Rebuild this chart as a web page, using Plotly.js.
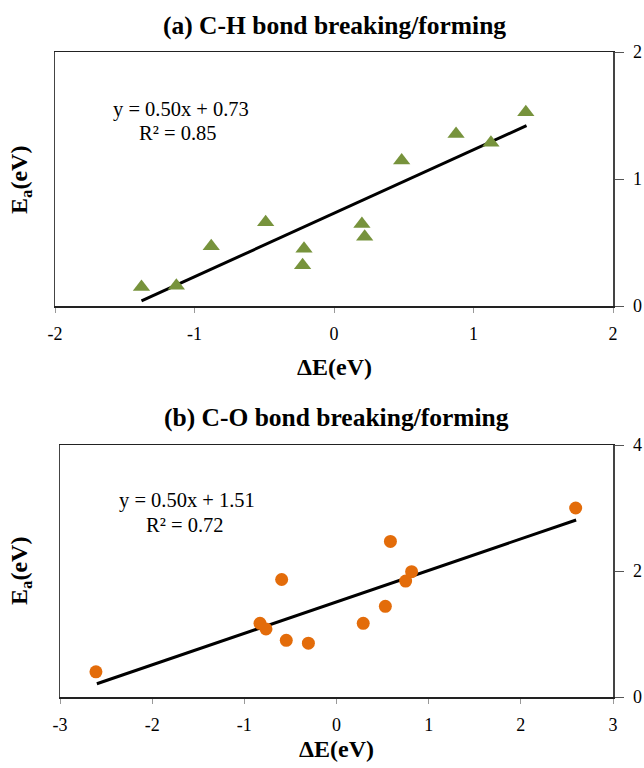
<!DOCTYPE html>
<html>
<head>
<meta charset="utf-8">
<script src="https://cdn.plot.ly/plotly-3.0.1.min.js"></script>
<style>html,body{margin:0;padding:0;background:#fff;}#chart{width:644px;height:768px;}</style>
</head>
<body>
<div id="chart"></div>
<script>
// (a) C-H bond breaking/forming
const chDeltaE = [-1.38, -1.13, -0.88, -0.49, -0.215, -0.225, 0.20, 0.22, 0.485, 0.875, 1.125, 1.375];
const chEa     = [0.15, 0.16, 0.47, 0.66, 0.45, 0.32, 0.645, 0.545, 1.145, 1.355, 1.285, 1.525];
const chTrendX = [-1.38, 1.38];
const chTrendY = [0.04, 1.42];
const chEquation = "y = 0.50x + 0.73";
const chR2 = "R² = 0.85";

// (b) C-O bond breaking/forming
const coDeltaE = [-2.61, -0.83, -0.765, -0.595, -0.545, -0.305, 0.29, 0.53, 0.585, 0.75, 0.815, 2.595];
const coEa     = [0.40, 1.17, 1.08, 1.865, 0.90, 0.855, 1.17, 1.44, 2.47, 1.84, 1.99, 3.0];
const coTrendX = [-2.6, 2.6];
const coTrendY = [0.21, 2.81];
const coEquation = "y = 0.50x + 1.51";
const coR2 = "R² = 0.72";

const xTicksA = [-2, -1, 0, 1, 2];
const yTicksA = [0, 1, 2];
const xTicksB = [-3, -2, -1, 0, 1, 2, 3];
const yTicksB = [0, 2, 4];

const FONT = "Liberation Serif";

const traces = [
  {x: chTrendX, y: chTrendY, xaxis: 'x', yaxis: 'y', mode: 'lines',
   line: {color: '#000', width: 3}, hoverinfo: 'skip'},
  {x: chDeltaE, y: chEa, xaxis: 'x', yaxis: 'y', mode: 'markers', type: 'scatter',
   marker: {symbol: 'triangle-up', size: 15, color: '#77933C'}},
  {x: coTrendX, y: coTrendY, xaxis: 'x2', yaxis: 'y2', mode: 'lines',
   line: {color: '#000', width: 3}, hoverinfo: 'skip'},
  {x: coDeltaE, y: coEa, xaxis: 'x2', yaxis: 'y2', mode: 'markers', type: 'scatter',
   marker: {symbol: 'circle', size: 13, color: '#E36C0A'}}
];

function xAxis(domain, range, ticks, anchor) {
  return {domain: domain, range: range, tickvals: ticks, ticktext: ticks.map(String),
    anchor: anchor, showline: true, mirror: true, linecolor: '#222', linewidth: 1.5,
    ticks: 'outside', ticklen: 5, tickcolor: '#999', tickwidth: 1,
    showgrid: false, zeroline: false, fixedrange: true,
    ticklabelstandoff: 6,
    tickfont: {family: FONT, size: 18, color: '#000'}};
}
function yAxis(domain, range, ticks, anchor) {
  return {domain: domain, range: range, tickvals: ticks, ticktext: ticks.map(String),
    anchor: anchor, side: 'right', showline: true, mirror: true, linecolor: '#444', linewidth: 1.5,
    ticks: 'outside', ticklen: 9, tickcolor: '#555', tickwidth: 1,
    showgrid: false, zeroline: false, fixedrange: true,
    ticklabelstandoff: 6,
    tickfont: {family: FONT, size: 18, color: '#000'}};
}

function ann(text, x, y, size, extra) {
  return Object.assign({text: text, x: x, y: y, xref: 'paper', yref: 'paper',
    xanchor: 'center', yanchor: 'middle', showarrow: false,
    font: {family: FONT, size: size, color: '#000'}}, extra || {});
}

const layout = {
  width: 644, height: 768,
  margin: {l: 0, r: 0, t: 0, b: 0},
  paper_bgcolor: '#fff', plot_bgcolor: '#fff',
  showlegend: false,
  font: {family: FONT},
  xaxis: xAxis([55/644, 613/644], [-2, 2], xTicksA, 'y'),
  yaxis: yAxis([1 - 306/768, 1 - 52/768], [0, 2], yTicksA, 'x'),
  xaxis2: xAxis([60/644, 613/644], [-3, 3], xTicksB, 'y2'),
  yaxis2: yAxis([1 - 697/768, 1 - 445/768], [0, 4], yTicksB, 'x2'),
  annotations: [
    ann('<b>(a) C-H bond breaking/forming</b>', 334/644, 1 - 25/768, 25.5),
    ann('<b>(b) C-O bond breaking/forming</b>', 336/644, 1 - 417/768, 25.5),
    ann('<b>ΔE(eV)</b>', 334/644, 1 - 367/768, 24),
    ann('<b>ΔE(eV)</b>', 336/644, 1 - 749/768, 24),
    ann('<b>E<sub>a</sub>(eV)</b>', 21/644, 1 - 180/768, 24, {textangle: -90}),
    ann('<b>E<sub>a</sub>(eV)</b>', 21/644, 1 - 571/768, 24, {textangle: -90}),
    ann(chEquation, 181/644, 1 - 110/768, 20.5),
    ann(chR2, 178/644, 1 - 133/768, 20.5),
    ann(coEquation, 187/644, 1 - 500/768, 20.5),
    ann(coR2, 185/644, 1 - 525/768, 20.5)
  ]
};

Plotly.newPlot('chart', traces, layout, {displayModeBar: false, staticPlot: true});
</script>
</body>
</html>
